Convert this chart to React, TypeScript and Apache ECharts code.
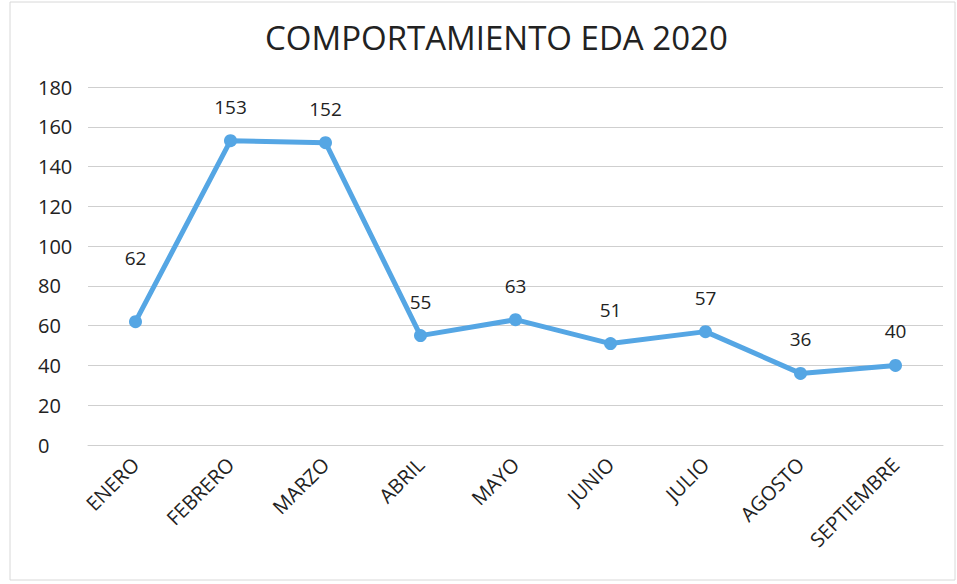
import React, { useEffect, useRef } from "react";
import * as echarts from "echarts";

const months = ["ENERO", "FEBRERO", "MARZO", "ABRIL", "MAYO", "JUNIO", "JULIO", "AGOSTO", "SEPTIEMBRE"];
const cases = [62, 153, 152, 55, 63, 51, 57, 36, 40];
const yTicks = { min: 0, max: 180, interval: 20 };
const titleText = "COMPORTAMIENTO EDA 2020";

export default function App() {
  const ref = useRef<HTMLDivElement>(null);
  useEffect(() => {
    if (!ref.current) return;
    const chart = echarts.init(ref.current, null, { renderer: "svg" });
    const font = "'Open Sans', 'Liberation Sans', sans-serif";
    chart.setOption({
      animation: false,
      backgroundColor: "#ffffff",
      title: {
        text: titleText,
        left: 260,
        top: 16,
        textStyle: { fontFamily: font, fontSize: 33, fontWeight: "normal", color: "#222" },
      },
      grid: { left: 88, right: 14, top: 87, bottom: 139, containLabel: false },
      xAxis: {
        type: "category",
        data: months,
        boundaryGap: true,
        axisLine: { show: true, lineStyle: { color: "#cfcfcf" } },
        axisTick: { show: false },
        axisLabel: { rotate: 45, margin: 16, fontFamily: font, fontSize: 20, color: "#222" },
      },
      yAxis: {
        type: "value",
        min: yTicks.min,
        max: yTicks.max,
        interval: yTicks.interval,
        axisLine: { show: false },
        axisTick: { show: false },
        splitLine: { lineStyle: { color: "#cfcfcf", width: 1 } },
        axisLabel: { align: "left", margin: 50, fontFamily: font, fontSize: 20, color: "#222" },
      },
      series: [
        {
          type: "line",
          data: cases.map((v, i) =>
            i === 0 ? { value: v, label: { distance: 48 } } : v
          ),
          symbol: "circle",
          symbolSize: 13,
          lineStyle: { color: "#55a6e4", width: 5 },
          itemStyle: { color: "#55a6e4" },
          label: {
            show: true,
            position: "top",
            distance: 18,
            fontFamily: font,
            fontSize: 19,
            color: "#222",
          },
        },
      ],
      graphic: [
        {
          type: "rect",
          shape: { x: 10, y: 2, width: 945, height: 578 },
          style: { fill: "none", stroke: "#d8d8d8", lineWidth: 1 },
          silent: true,
        },
      ],
    });
    return () => chart.dispose();
  }, []);
  return (
    <div
      ref={ref}
      style={{ position: "fixed", left: 0, top: 0, width: 957, height: 584 }}
    />
  );
}
